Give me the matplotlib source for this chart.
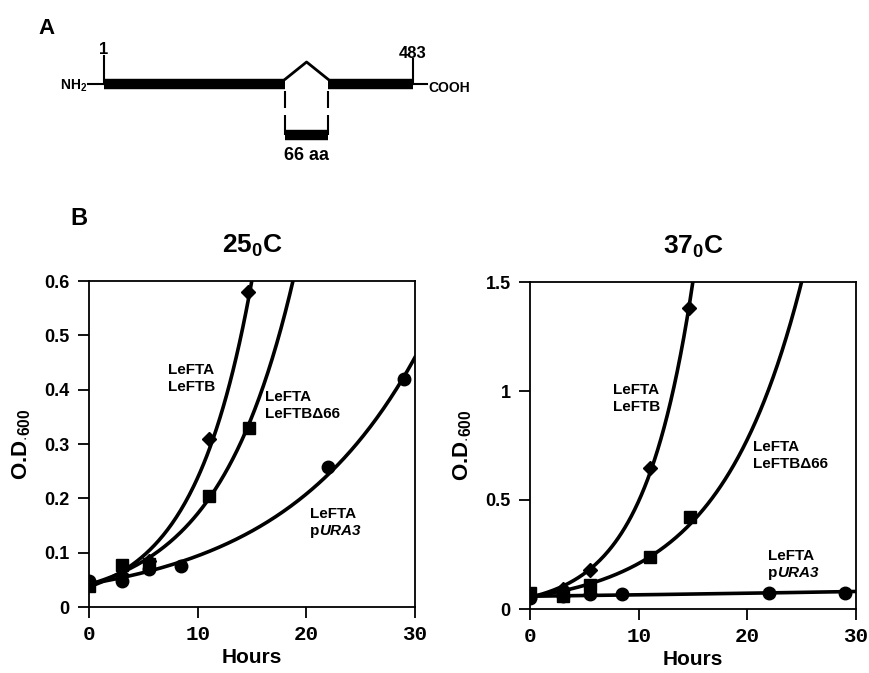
import numpy as np
import matplotlib
matplotlib.use("Agg")
import matplotlib.pyplot as plt

plt.rcParams['font.family'] = ['Liberation Sans', 'DejaVu Sans']
plt.rcParams['font.weight'] = 'bold'
plt.rcParams['axes.titleweight'] = 'bold'
plt.rcParams['axes.labelweight'] = 'bold'
plt.rcParams['mathtext.fontset'] = 'custom'
plt.rcParams['mathtext.rm'] = 'Liberation Sans:bold'
plt.rcParams['mathtext.bf'] = 'Liberation Sans:bold'
plt.rcParams['mathtext.it'] = 'Liberation Sans:bold:italic'
plt.rcParams['mathtext.default'] = 'bf'

# panel A: protein map
protein_length = 483
deletion_start = 284
deletion_length = 66

# panel B data (hours, O.D.600)
hours_ftb = [0, 3, 5.5, 11, 14.6]
hours_d66 = [0, 3, 5.5, 11, 14.7]
hours_ura = [0, 3, 5.5, 8.5, 22, 29]

od25_ftb = [0.045, 0.058, 0.085, 0.31, 0.58]
od25_d66 = [0.038, 0.077, 0.08, 0.205, 0.33]
od25_ura = [0.048, 0.048, 0.07, 0.075, 0.258, 0.42]

od37_ftb = [0.06, 0.09, 0.18, 0.645, 1.38]
od37_d66 = [0.075, 0.06, 0.11, 0.24, 0.42]
od37_ura = [0.05, 0.06, 0.07, 0.07, 0.075, 0.075]

W, H = 870, 673
fig = plt.figure(figsize=(W / 100, H / 100), dpi=100)

# ---------- panel A ----------
px_per_aa = (413 - 104) / (protein_length - 1)
axA = fig.add_axes([0, 1 - 200 / H, 1, 200 / H])
axA.set_xlim(1 - 104 / px_per_aa, 1 + (W - 104) / px_per_aa)
axA.set_ylim(200, 0)
axA.axis('off')
d0 = deletion_start
d1 = deletion_start + deletion_length
mid = (d0 + d1) / 2
axA.plot([1 - 16 / px_per_aa, 1], [84, 84], color='k', lw=1.5)
axA.plot([protein_length, protein_length + 14 / px_per_aa], [84, 84], color='k', lw=1.5)
axA.plot([1, d0], [84, 84], color='k', lw=7.5, solid_capstyle='butt')
axA.plot([d1, protein_length], [84, 84], color='k', lw=7.5, solid_capstyle='butt')
axA.plot([d0, mid, d1], [79, 62, 79], color='k', lw=2)
axA.plot([1, 1], [56, 84], color='k', lw=1.5)
axA.plot([protein_length, protein_length], [59, 84], color='k', lw=1.5)
for xd in (d0, d1):
    axA.plot([xd, xd], [91, 108], color='k', lw=1.5, solid_capstyle='butt')
    axA.plot([xd, xd], [115, 135], color='k', lw=1.5, solid_capstyle='butt')
axA.plot([d0, d1], [135, 135], color='k', lw=7.5, solid_capstyle='butt')
axA.text(1 - 17 / px_per_aa, 86, "NH$_2$", ha='right', va='center', fontsize=10)
axA.text(protein_length + 15 / px_per_aa, 88, "COOH", ha='left', va='center', fontsize=10)
axA.text(1, 49, "1", ha='center', va='center', fontsize=12)
axA.text(protein_length, 53, str(protein_length), ha='center', va='center', fontsize=12)
axA.text(mid, 155, f"{deletion_length} aa", ha='center', va='center', fontsize=13)

fig.text(47 / W, 1 - 28 / H, "A", ha='center', va='center', fontsize=16)
fig.text(79 / W, 1 - 219 / H, "B", ha='center', va='center', fontsize=17)


def growth_curve(ax, x, y, xmax, marker, ms):
    b, a = np.polyfit(x, np.log(y), 1)
    xs = np.linspace(0, xmax, 300)
    ax.plot(xs, np.exp(a + b * xs), color='k', lw=2.6, zorder=3)
    ax.plot(x, y, linestyle='none', marker=marker, ms=ms, color='k', zorder=4)


def strain_label(ax, x, y, second, italic=None):
    t1 = ax.text(x, y, "LeFTA", ha='left', va='bottom', fontsize=11)
    t2 = ax.annotate(second, xy=(0, 0), xycoords=t1, xytext=(0, -2),
                     textcoords='offset points', ha='left', va='top', fontsize=11)
    if italic:
        ax.annotate(italic, xy=(1, 0), xycoords=t2, ha='left', va='bottom',
                    fontsize=11, style='italic')


def style(ax, title, ymax, yticks, yticklabels):
    ax.set_xlim(0, 30)
    ax.set_ylim(0, ymax)
    ax.set_xticks([0, 10, 20, 30])
    ax.set_xticklabels(["0", "10", "20", "30"], family='Liberation Mono', fontsize=15, fontweight='bold')
    ax.set_yticks(yticks)
    ax.set_yticklabels(yticklabels, fontsize=13)
    ax.tick_params(direction='out', length=8, width=1.3)
    ax.tick_params(axis='x', pad=5)
    ax.tick_params(axis='y', pad=6)
    for s in ax.spines.values():
        s.set_linewidth(1.3)
    ax.set_xlabel("Hours", fontsize=15, labelpad=3)
    ax.set_ylabel("O.D$_{\\cdot600}$", fontsize=16, labelpad=8)
    ax.set_title(title, fontsize=19, pad=20)


ax1 = fig.add_axes([89 / W, 1 - 607 / H, 326 / W, 326 / H])
growth_curve(ax1, hours_ftb, od25_ftb, 30, 'D', 7)
growth_curve(ax1, hours_d66, od25_d66, 30, 's', 9)
growth_curve(ax1, hours_ura, od25_ura, 30, 'o', 9)
style(ax1, "25$_0$C", 0.6, [0, 0.1, 0.2, 0.3, 0.4, 0.5, 0.6],
      ["0", "0.1", "0.2", "0.3", "0.4", "0.5", "0.6"])
strain_label(ax1, 7.3, 0.423, "LeFTB")
strain_label(ax1, 16.2, 0.374, "LeFTB\u039466")
strain_label(ax1, 20.3, 0.158, "p", "URA3")

ax2 = fig.add_axes([530 / W, 1 - 609 / H, 326 / W, 327 / H])
growth_curve(ax2, hours_ftb, od37_ftb, 30, 'D', 7)
growth_curve(ax2, hours_d66, od37_d66, 30, 's', 9)
growth_curve(ax2, hours_ura, od37_ura, 30, 'o', 9)
style(ax2, "37$_0$C", 1.5, [0, 0.5, 1, 1.5], ["0", "0.5", "1", "1.5"])
strain_label(ax2, 7.6, 0.972, "LeFTB")
strain_label(ax2, 20.5, 0.711, "LeFTB\u039466")
strain_label(ax2, 21.9, 0.211, "p", "URA3")

fig.savefig("out.png", dpi=100)
